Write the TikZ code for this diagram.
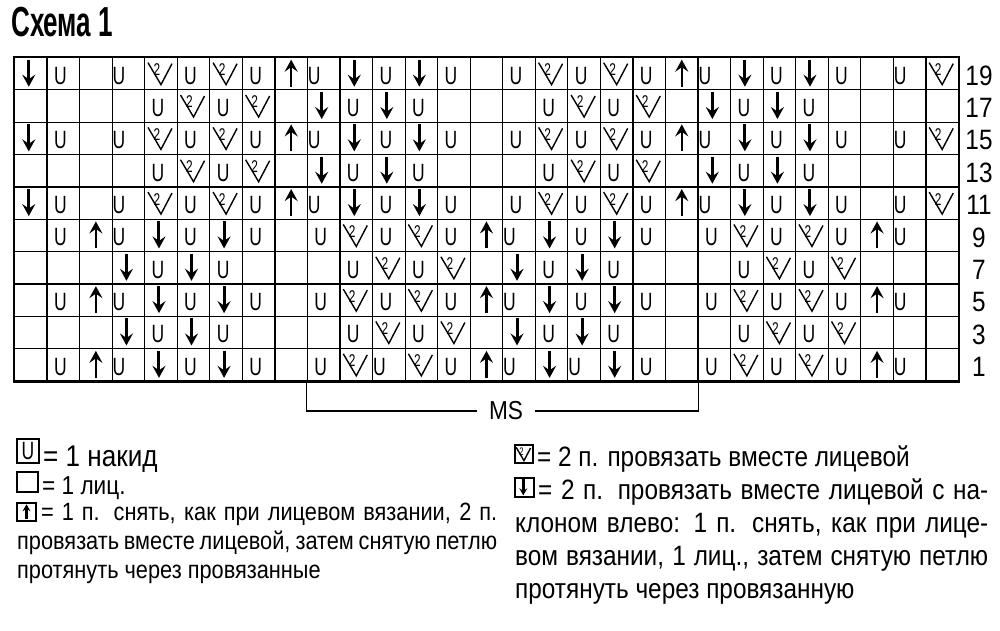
\documentclass[tikz,border=0pt]{standalone}
\usepackage{fontspec}
\setmainfont{Liberation Sans}
\newfontfamily\titlefont[FakeStretch=0.62]{Liberation Sans}
\newfontfamily\yarnfont[FakeStretch=0.7]{Liberation Sans}
\newfontfamily\keyfont[FakeStretch=0.87]{Liberation Sans}
\usetikzlibrary{arrows.meta, positioning}

% chart rows: K = лиц., o/u = накид, V = 2 вместе, D/A = наклон / протяжка
\def\rowA{D,o,K,u,V,o,V,o,A,u,D,o,D,o,K,o,V,o,V,o,A,u,D,o,D,o,K,u,V}
\def\rowB{K,K,K,K,o,V,o,V,K,D,o,D,o,K,K,K,o,V,o,V,K,D,o,D,o,K,K,K,K}
\def\rowC{K,o,A,u,D,o,D,o,K,o,V,o,V,o,A,u,D,o,D,o,K,o,V,o,V,o,A,u,K}
\def\rowD{K,K,K,D,o,D,o,K,K,K,o,V,o,V,K,D,o,D,o,K,K,K,o,V,o,V,K,K,K}
\def\rowE{K,o,A,u,D,o,D,o,K,o,V,u,V,o,A,u,D,u,D,o,K,o,V,o,V,o,A,u,K}

\begin{document}
\begin{tikzpicture}[
    x=1pt, y=-1pt,
    cell/.style={rectangle, draw, line width=1.2pt, minimum width=32.55pt,
                 minimum height=32.35pt, inner sep=0pt},
    keybox/.style={rectangle, draw, line width=1.1pt, inner sep=0pt},
    yarn/.style={font=\yarnfont\fontsize{25}{25}\selectfont, inner sep=0pt},
    two/.style={font=\yarnfont\fontsize{17}{17}\selectfont, inner sep=0pt},
    stitch/.style={line width=1.4pt},
    stitchtip/.style={-{Stealth[length=12pt, width=13pt, inset=4.5pt]}},
    rownum/.style={font=\keyfont\fontsize{28}{28}\selectfont, inner sep=0pt},
    keytext/.style={font=\keyfont\fontsize{25}{25}\selectfont, anchor=base west, inner sep=0pt},
    keytextr/.style={keytext, font=\keyfont\fontsize{28}{28}\selectfont},
    % one symbol per stitch
    stK/.pic={},
    sto/.pic={\node[yarn] (-u) at (-3,2) {U};},
    stu/.pic={\node[yarn] (-u) at (-9.5,2) {U};},
    stV/.pic={\draw[stitch] (-13,-11) -- (0,11) -- (11,-10);
              \node[two] (-n) at (-4,-4) {2};},
    stD/.pic={\draw[stitch, line width=3pt, stitchtip] (-2,-14) -- (-2,13);},
    stA/.pic={\draw[stitch, line width=2.4pt, stitchtip] (0,13) -- (0,-14);}
]
\useasboundingbox (0,0) rectangle (1000,630);

% --- Title ---
\node[font=\titlefont\bfseries\fontsize{42}{42}\selectfont, anchor=base west, inner sep=0pt]
    (title) at (11,36) {Схема 1};

% --- Chart ---
\foreach \rowcodes [count=\r from 0] in {\rowA,\rowB,\rowA,\rowB,\rowA,\rowC,\rowD,\rowC,\rowD,\rowE} {
    \edef\cells{\rowcodes}
    \foreach \s [count=\i from 0] in \cells {
        \node[cell] (c\r-\i) at ({14.5+(\i+0.5)*32.55}, {57.5+(\r+0.5)*32.35}) {};
        \pic (s\r-\i) at (c\r-\i) {st\s};
    }
}
\draw[line width=1.8pt] (c0-0.north west) rectangle (c9-28.south east);

\foreach \lab [count=\r from 0] in {19,17,15,13,11,9,7,5,3,1}
    \node[rownum] (row\lab) at (979, {57.5+(\r+0.5)*32.35+2}) {\lab};

% --- MS bracket ---
\coordinate (msl) at (c9-9.south west);
\coordinate (msr) at (c9-20.south east);
\node[font=\keyfont\fontsize{26}{26}\selectfont, fill=white, inner xsep=12pt, inner ysep=2pt] (ms) at (506,411) {MS};
\draw[line width=1.2pt] (msl) |- (ms.west);
\draw[line width=1.2pt] (msr) |- (ms.east);

% --- Legend, left ---
\node[keybox, minimum width=22pt, minimum height=24pt] (keyo) at (28,451) {};
\node[yarn] (keyou) at (keyo) {U};
\node[keytext, font=\keyfont\fontsize{30}{30}\selectfont] (txto) at (43,466) {= 1 накид};

\node[keybox, minimum width=21pt, minimum height=20pt] (keyK) at (27.5,482) {};
\node[keytext, font=\keyfont\fontsize{26}{26}\selectfont] (txtK) at (42,494) {= 1 лиц.};

\node[keybox, minimum width=19pt, minimum height=18pt] (keyA) at (26.5,512) {};
\pic[scale=0.55, stitchtip/.style={-{Stealth[length=7pt, width=8pt, inset=2.5pt]}}] (sA) at (keyA) {stA};
\node[keytext] (txtA1) at (41,520) {\makebox[456pt][s]{= 1 п. снять, как при лицевом вязании, 2 п.}};
\node[keytext] (txtA2) at (17,549) {\makebox[480pt][s]{провязать вместе лицевой, затем снятую петлю}};
\node[keytext] (txtA3) at (17,578) {протянуть через провязанные};

% --- Legend, right ---
\node[keybox, minimum size=18pt] (keyV) at (524,454) {};
\pic[scale=0.6, two/.style={font=\yarnfont\fontsize{11}{11}\selectfont, inner sep=0pt}] (sV) at (keyV) {stV};
\node[keytextr] (txtV) at (537,466) {= 2 п. провязать вместе лицевой};

\node[keybox, minimum width=19pt, minimum height=19pt] (keyD) at (524.5,487.5) {};
\pic[scale=0.6, stitchtip/.style={-{Stealth[length=7pt, width=8pt, inset=2.5pt]}}] (sD) at (keyD) {stD};
\node[keytextr] (txtD1) at (538,499) {\makebox[450pt][s]{= 2 п. провязать вместе лицевой с на-}};
\node[keytextr] (txtD2) at (515,532) {\makebox[473pt][s]{клоном влево: 1 п. снять, как при лице-}};
\node[keytextr] (txtD3) at (515,565) {\makebox[473pt][s]{вом вязании, 1 лиц., затем снятую петлю}};
\node[keytextr] (txtD4) at (515,598) {протянуть через провязанную};
\end{tikzpicture}
\end{document}
